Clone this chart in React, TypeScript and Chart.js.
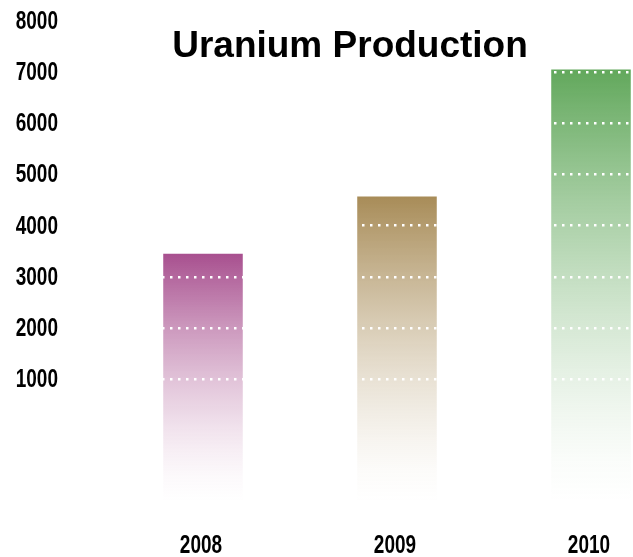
import React, { useEffect, useRef } from "react";
import { Chart, registerables } from "chart.js";

Chart.register(...registerables);

const categories = ["2008", "2009", "2010"];
const production = [3450, 4570, 7050];
const barColors = ["#A8508F", "#A88C58", "#62A85C"];
const yTicks = [1000, 2000, 3000, 4000, 5000, 6000, 7000, 8000];
const yMin = -1400;
const yMax = 8000;
const titleText = "Uranium Production";

const LABEL_FONT = 'bold 25px "Liberation Sans", Arial, sans-serif';
const SQUEEZE = 0.76;

function hexToRgb(hex: string) {
  const n = parseInt(hex.slice(1), 16);
  return [(n >> 16) & 255, (n >> 8) & 255, n & 255];
}

const textPlugin = {
  id: "customText",
  afterDraw(chart: any) {
    const { ctx, width } = chart;
    ctx.save();
    ctx.font = 'bold 37px "Liberation Sans", Arial, sans-serif';
    ctx.fillStyle = "#000";
    ctx.textAlign = "center";
    ctx.textBaseline = "alphabetic";
    ctx.fillText(titleText, width / 2, 49);
    ctx.restore();

    const ys = chart.scales.y;
    ctx.save();
    ctx.font = LABEL_FONT;
    ctx.fillStyle = "#000";
    ctx.textAlign = "right";
    ctx.textBaseline = "middle";
    for (const v of yTicks) {
      const y = ys.getPixelForValue(v);
      ctx.save();
      ctx.translate(50, y + 1);
      ctx.scale(SQUEEZE, 1);
      ctx.fillText(String(v), 0, 0);
      ctx.restore();
    }
    const xs = chart.scales.x;
    ctx.textAlign = "center";
    ctx.textBaseline = "alphabetic";
    categories.forEach((c, i) => {
      const x = xs.getPixelForValue(i);
      ctx.save();
      ctx.translate(x - 2, 545);
      ctx.scale(SQUEEZE, 1);
      ctx.fillText(c, 0, 0);
      ctx.restore();
    });
    ctx.restore();
  },
};

export default function App() {
  const ref = useRef<HTMLCanvasElement>(null);
  useEffect(() => {
    if (!ref.current) return;
    const chart = new Chart(ref.current, {
      type: "bar",
      data: {
        labels: categories,
        datasets: [
          {
            data: production,
            base: yMin,
            categoryPercentage: 1,
            barPercentage: 0.41,
            borderWidth: 0,
            backgroundColor: (c: any) => {
              const chartObj = c.chart;
              const idx = c.dataIndex;
              const col = barColors[idx % barColors.length];
              if (!chartObj.chartArea || c.type !== "data") return col;
              const y = chartObj.scales.y;
              const top = y.getPixelForValue(production[idx]);
              const bottom = y.getPixelForValue(yMin);
              const [r, g, b] = hexToRgb(col);
              const grad = chartObj.ctx.createLinearGradient(0, top, 0, bottom);
              for (let i = 0; i <= 10; i++) {
                const t = i / 10;
                const a = Math.pow(1 - t, 1.5);
                grad.addColorStop(t, `rgba(${r},${g},${b},${a.toFixed(3)})`);
              }
              return grad;
            },
          },
        ],
      },
      options: {
        animation: false,
        responsive: false,
        maintainAspectRatio: false,
        layout: { padding: { left: 98, right: 4, top: 13, bottom: 55 }, autoPadding: false },
        plugins: { legend: { display: false }, tooltip: { enabled: false }, title: { display: false } },
        scales: {
          x: {
            grid: { display: false, drawTicks: false },
            border: { display: false },
            ticks: { display: false },
          },
          y: {
            min: yMin,
            max: yMax,
            afterBuildTicks: (scale: any) => {
              scale.ticks = yTicks.map((v) => ({ value: v }));
            },
            grid: { color: "#ffffff", lineWidth: 2.5, drawTicks: false, z: 1 },
            border: { display: false, dash: [2.5, 5.5] },
            ticks: { display: false },
          },
        },
      },
      plugins: [textPlugin],
    });
    return () => chart.destroy();
  }, []);
  return (
    <div style={{ position: "absolute", left: 8, top: 8, width: 625, height: 549, overflow: "hidden" }}>
      <canvas ref={ref} width={684} height={549} style={{ display: "block" }} />
    </div>
  );
}
